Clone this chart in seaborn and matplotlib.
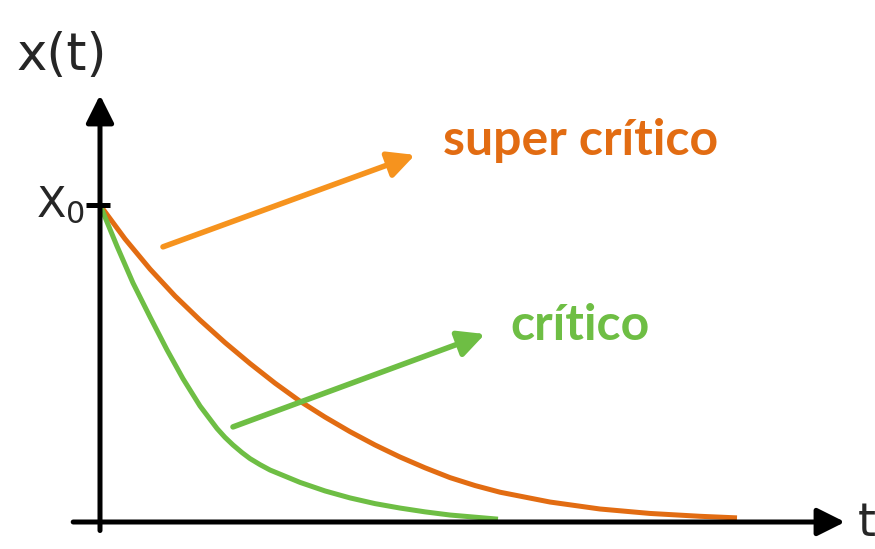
import numpy as np
import pandas as pd
import matplotlib
matplotlib.use('Agg')
import matplotlib.pyplot as plt
import seaborn as sns

# curve values (t in arbitrary units, x / x0)
t_super = [0.0, 0.25, 0.5, 0.75, 1.0, 1.25, 1.5, 1.75, 2.0, 2.25, 2.5, 2.75, 3.0, 3.25, 3.5, 3.75,
           4.0, 4.5, 5.0, 5.5, 6.0, 6.37]
x_super = [1.0, 0.893, 0.798, 0.713, 0.637, 0.566, 0.500, 0.438, 0.381, 0.331, 0.285, 0.243, 0.205,
           0.171, 0.140, 0.115, 0.094, 0.063, 0.041, 0.027, 0.018, 0.013]

t_crit = [0.0, 0.17, 0.33, 0.50, 0.67, 0.83, 1.00, 1.17, 1.25, 1.33, 1.42, 1.50, 1.60, 1.70, 2.00,
          2.25, 2.50, 2.75, 3.00, 3.25, 3.50, 3.98]
x_crit = [1.0, 0.870, 0.754, 0.647, 0.543, 0.452, 0.366, 0.295, 0.267, 0.243, 0.219, 0.200, 0.181,
          0.164, 0.125, 0.098, 0.076, 0.058, 0.044, 0.032, 0.022, 0.009]

labels = ['super crítico', 'crítico']

orange_dark = '#E26C12'
orange_light = '#F6931E'
green = '#6EBE44'

df_super = pd.DataFrame({'t': t_super, 'x': x_super})
df_crit = pd.DataFrame({'t': t_crit, 'x': x_crit})

sns.set_style('white')
plt.rcParams['font.family'] = ['DejaVu Sans']

fig = plt.figure(figsize=(8.75, 5.49), dpi=100)
ax = fig.add_axes([100 / 875, 27 / 549, 745 / 875, 427 / 549])

sns.lineplot(data=df_super, x='t', y='x', color=orange_dark, lw=3.6, ax=ax,
             solid_capstyle='butt', solid_joinstyle='round', sort=False)
sns.lineplot(data=df_crit, x='t', y='x', color=green, lw=3.6, ax=ax,
             solid_capstyle='butt', solid_joinstyle='round', sort=False)

ax.set_xlim(0, 7.45)
ax.set_ylim(0, 1.347)
ax.set_xticks([])
ax.set_yticks([])
ax.set_xlabel('')
ax.set_ylabel('')
for s in ax.spines.values():
    s.set_visible(False)

# axes with arrow heads
axis_arrow = dict(arrowstyle='-|>', lw=3.6, color='black', mutation_scale=42,
                  shrinkA=0, shrinkB=0)
ax.annotate('', xy=(1, 0), xytext=(-0.036, 0), xycoords='axes fraction',
            arrowprops=axis_arrow, annotation_clip=False)
ax.annotate('', xy=(0, 1), xytext=(0, -0.02), xycoords='axes fraction',
            arrowprops=axis_arrow, annotation_clip=False)

# x0 tick
ax.plot([-0.14, 0.10], [1.0, 1.0], color='black', lw=3.6, clip_on=False,
        solid_capstyle='butt')

# pointer arrows
ax.annotate('', xy=(3.15, 1.158), xytext=(0.63, 0.868),
            arrowprops=dict(arrowstyle='-|>', lw=4, color=orange_light, mutation_scale=40,
                            shrinkA=0, shrinkB=0))
ax.annotate('', xy=(3.85, 0.593), xytext=(1.33, 0.300),
            arrowprops=dict(arrowstyle='-|>', lw=4, color=green, mutation_scale=40,
                            shrinkA=0, shrinkB=0))

ax.text(3.43, 1.158, labels[0], color=orange_dark, fontsize=36, fontweight='bold',
        family='Lato', ha='left', va='baseline')
ax.text(4.10, 0.574, labels[1], color=green, fontsize=36, fontweight='bold',
        family='Lato', ha='left', va='baseline')

ax.text(-0.83, 1.426, 'x(t)', fontsize=37, ha='left', va='baseline', clip_on=False)
ax.text(-0.15, 1.0, r'$\mathrm{X}_0$', fontsize=31, ha='right', va='center', clip_on=False)
ax.text(7.58, -0.005, 't', fontsize=33, ha='left', va='center', clip_on=False)

fig.savefig('out.png', dpi=100)
